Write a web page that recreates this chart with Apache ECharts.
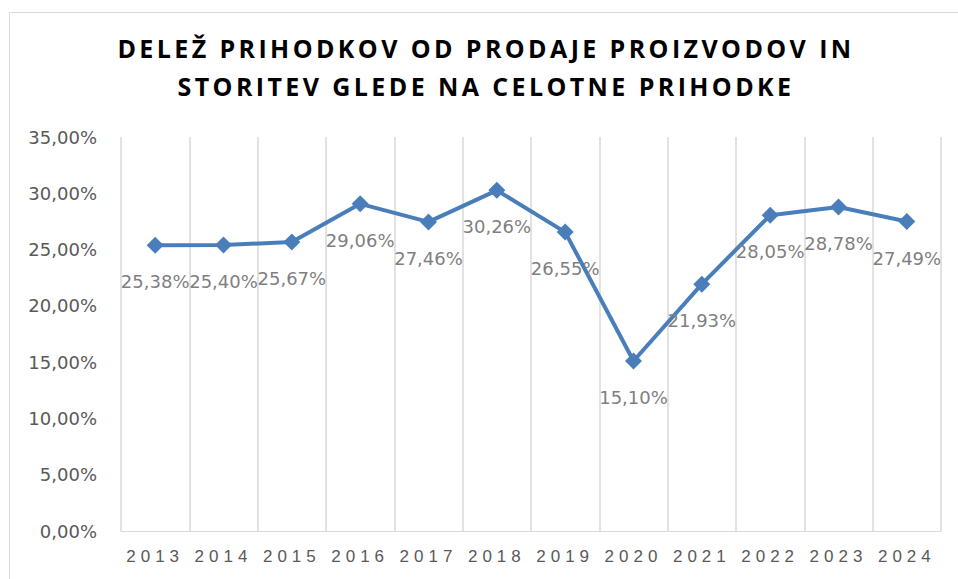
<!DOCTYPE html>
<html>
<head>
<meta charset="utf-8">
<script src="https://cdn.jsdelivr.net/npm/echarts@6/dist/echarts.min.js"></script>
<style>
  html, body { margin: 0; padding: 0; background: #fff; }
  #chart { width: 958px; height: 579px; }
  /* Excel-style spaced title and year labels */
  #chart text[style*="Open Sans"] { letter-spacing: 3.4px; }
  #chart text[style*="Liberation Sans"] { letter-spacing: 5px; }
</style>
</head>
<body>
<div id="chart"></div>
<script>
  const years = ['2013', '2014', '2015', '2016', '2017', '2018', '2019', '2020', '2021', '2022', '2023', '2024'];
  const shares = [25.38, 25.40, 25.67, 29.06, 27.46, 30.26, 26.55, 15.10, 21.93, 28.05, 28.78, 27.49];
  const titleText = 'DELEŽ PRIHODKOV OD PRODAJE PROIZVODOV IN\nSTORITEV GLEDE NA CELOTNE PRIHODKE';

  function pct(v) {
    return v.toFixed(2).replace('.', ',') + '%';
  }

  const chart = echarts.init(document.getElementById('chart'), null, { renderer: 'svg' });
  chart.setOption({
    animation: false,
    backgroundColor: '#fff',
    title: {
      text: titleText,
      left: 481,
      top: 24,
      textAlign: 'center',
      textStyle: {
        fontFamily: 'Open Sans',
        fontWeight: 'bold',
        fontSize: 25,
        lineHeight: 38,
        color: '#000'
      }
    },
    graphic: [{
      type: 'rect',
      shape: { x: 9.5, y: 12.5, width: 1000, height: 1000 },
      style: { fill: 'none', stroke: '#d9d9d9', lineWidth: 1 },
      silent: true
    }],
    grid: { left: 121, right: 17, top: 137, bottom: 48 },
    xAxis: {
      type: 'category',
      data: years,
      boundaryGap: true,
      axisLine: { lineStyle: { color: '#d9d9d9', width: 1 } },
      axisTick: { show: false },
      splitLine: { show: true, interval: 0, lineStyle: { color: '#d9d9d9', width: 1.5 } },
      axisLabel: {
        interval: 0,
        margin: 17,
        fontFamily: 'Liberation Sans',
        fontSize: 17,
        color: '#595959'
      }
    },
    yAxis: {
      type: 'value',
      min: 0,
      max: 35,
      interval: 5,
      axisLine: { show: false },
      axisTick: { show: false },
      splitLine: { show: false },
      axisLabel: {
        margin: 24,
        fontFamily: 'DejaVu Sans',
        fontSize: 18,
        color: '#595959',
        formatter: pct
      }
    },
    series: [{
      type: 'line',
      data: shares,
      symbol: 'diamond',
      symbolSize: 17,
      itemStyle: { color: '#4a7ebb' },
      lineStyle: { color: '#4a7ebb', width: 4 },
      label: {
        show: true,
        position: 'bottom',
        distance: 19,
        fontFamily: 'DejaVu Sans',
        fontSize: 18,
        color: '#7f7f7f',
        formatter: p => pct(p.value)
      }
    }]
  });
</script>
</body>
</html>
